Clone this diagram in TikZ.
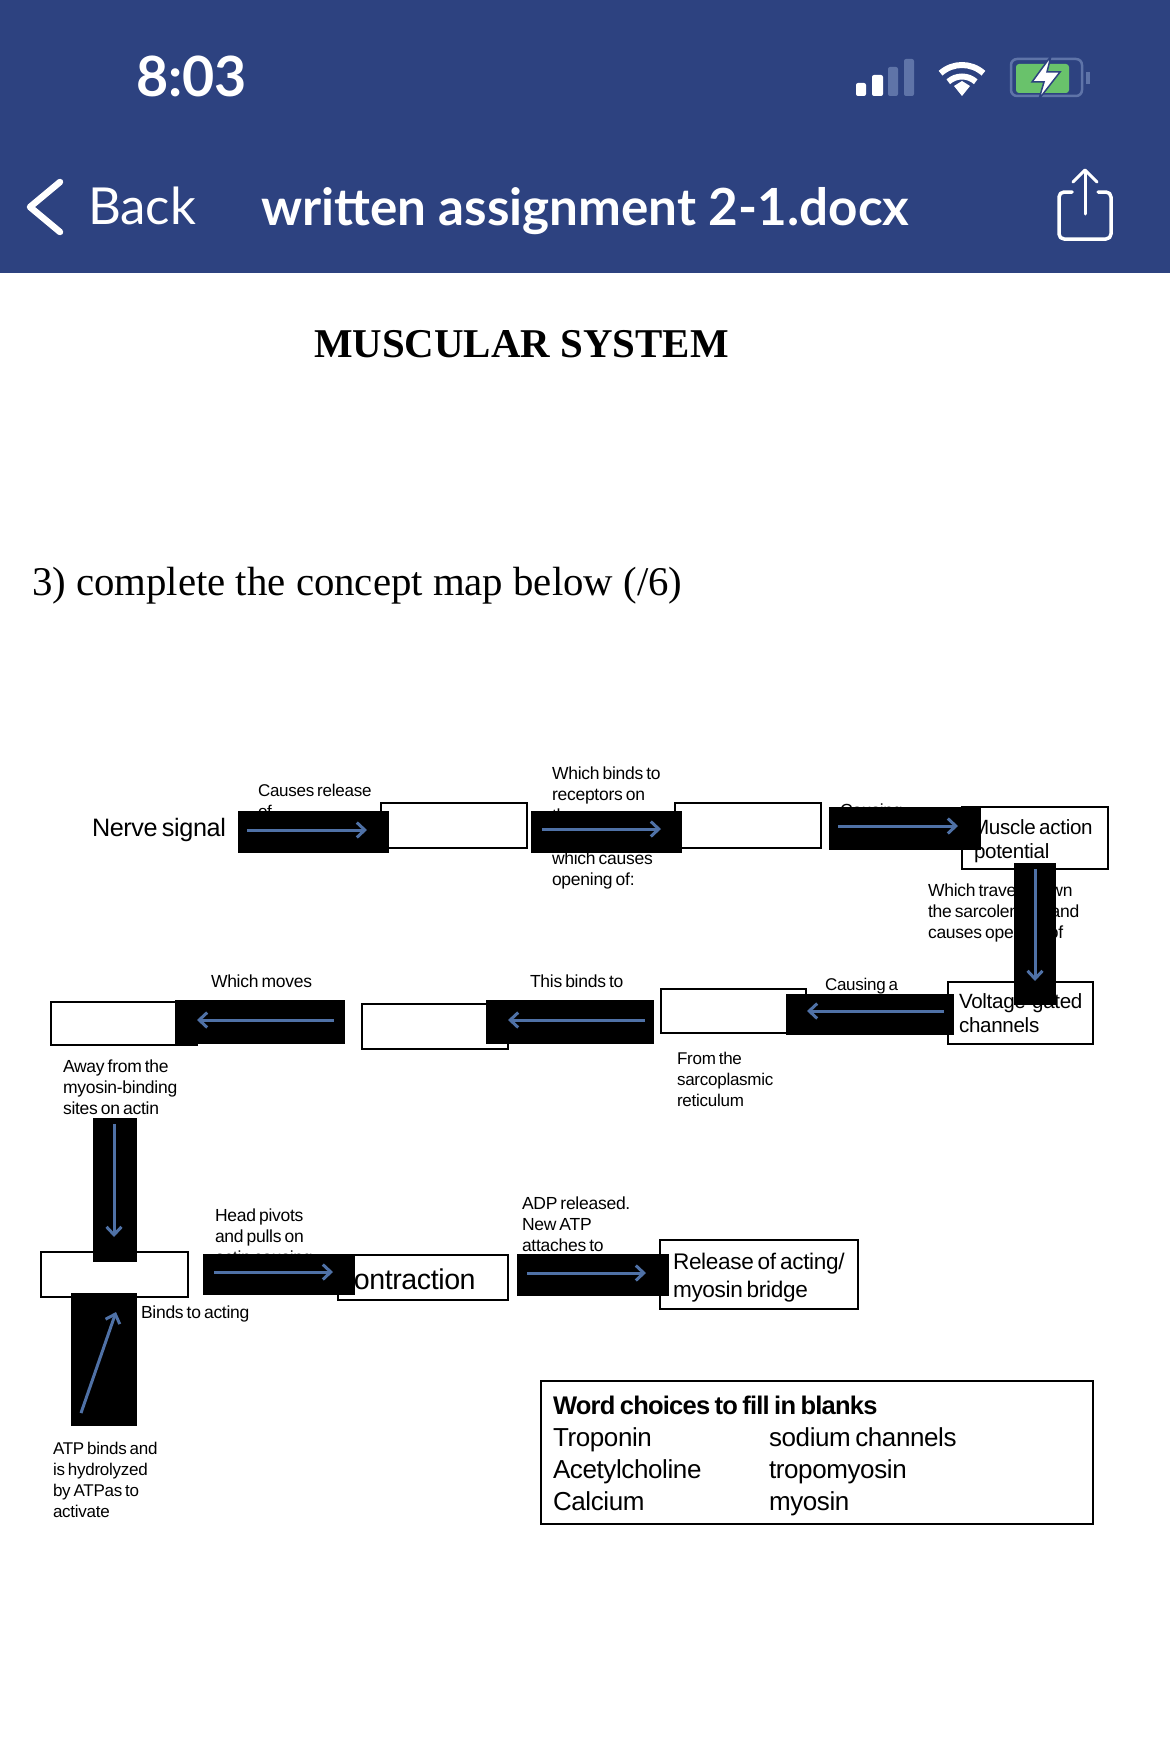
\documentclass[tikz,border=0pt]{standalone}
\usepackage{fontspec}
\setmainfont[LetterSpace=-1.5,WordSpace=0.65]{Liberation Sans}
\newfontfamily\serifface{Liberation Serif}
\newfontfamily\uiface{Lato}
\newfontfamily\boldword[LetterSpace=-3,WordSpace=0.7]{Liberation Sans Bold}
\usetikzlibrary{arrows.meta}
\definecolor{hdr}{HTML}{2D4280}
\definecolor{arrowblue}{HTML}{4F71A6}
\definecolor{dimbar}{HTML}{5F74A8}
\definecolor{battgreen}{HTML}{69C26B}
\newcommand{\lns}[1]{\begin{tabular}[t]{@{}l@{}}#1\end{tabular}}
\tikzset{
  x=1pt,y=-1pt,
  boxn/.style={draw=black,line width=2pt,fill=white,inner sep=0,outer sep=0,anchor=north west},
  barn/.style={fill=black,inner sep=0,outer sep=0,anchor=north west},
  lbl/.style={anchor=base west,inner sep=0,outer sep=0},
  small/.style={lbl,font=\fontsize{17.5}{21.2}\selectfont},
  big/.style={lbl,font=\fontsize{20.6}{24.5}\selectfont},
  arr/.style={draw=arrowblue,line width=3pt,-{Straight Barb[length=8pt,width=15pt,line width=3pt]}},
  ui/.style={lbl,text=white,font=\uiface\fontsize{51}{51}\selectfont},
  iconline/.style={draw=white,line cap=round,line join=round},
}
\newcommand{\bx}[5]{\node[#1,minimum width=#4pt,minimum height=#5pt] (#2) at (#3) {};}
\begin{document}
\begin{tikzpicture}
\useasboundingbox (0,0) rectangle (1170,1742);
\fill[white] (0,0) rectangle (1170,1742);
\fill[hdr] (0,0) rectangle (1170,273);
% status bar
\node[ui,font=\uiface\bfseries\fontsize{55.5}{56}\selectfont] (clock) at (136,97) {8:03};
\fill[white,rounded corners=2pt] (856,83) rectangle (866,96);
\fill[white,rounded corners=2pt] (872,75) rectangle (883,96);
\fill[dimbar,rounded corners=2pt] (888,67) rectangle (898,96);
\fill[dimbar,rounded corners=2pt] (904,59) rectangle (914,96);
\draw[white,line width=6pt] (962,97) ++(228:32) arc[start angle=228,end angle=312,radius=32];
\draw[white,line width=6pt] (962,97) ++(228:20.5) arc[start angle=228,end angle=312,radius=20.5];
\fill[white] (954,86) -- (962,96) -- (970,86) -- (962,81) -- cycle;
\draw[dimbar,line width=2.5pt,rounded corners=6pt] (1011,59) rectangle (1082,96);
\fill[battgreen,rounded corners=3pt] (1016,64) rectangle (1069,93);
\fill[dimbar] (1086,72) rectangle (1090,84);
\fill[white,draw=hdr,line width=1.5pt] (1051,56) -- (1032,82) -- (1044,82) -- (1039,99) -- (1060,72) -- (1047,72) -- cycle;
% nav bar
\draw[iconline,line width=6.5pt] (60,182) -- (30,207) -- (60,232);
\node[ui,font=\uiface\fontsize{51}{51}\selectfont] (back) at (88,224) {Back};
\node[ui,font=\uiface\bfseries\fontsize{51.2}{52}\selectfont] (doc) at (261,225) {written assignment 2-1.docx};
\draw[iconline,line width=3.5pt] (1072,192) -- (1064,192) arc[start angle=270,end angle=180,radius=5] -- (1059,234) arc[start angle=180,end angle=90,radius=5] -- (1106,239) arc[start angle=90,end angle=0,radius=5] -- (1111,197) arc[start angle=0,end angle=-90,radius=5] -- (1098,192);
\draw[iconline,line width=3pt] (1085,214) -- (1085,171);
\draw[iconline,line width=3pt] (1073,182) -- (1085,170) -- (1097,182);
% headings
\node[lbl,font=\serifface\bfseries\fontsize{40.9}{42}\selectfont] (heading) at (314,357) {MUSCULAR SYSTEM};
\node[lbl,font=\serifface\fontsize{40.8}{42}\selectfont] (question) at (32,595) {3) complete the concept map below (/6)};
% blank and filled boxes
\bx{boxn}{b1}{381,803}{146}{45}
\bx{boxn}{b2}{675,803}{146}{45}
\bx{boxn}{muscle}{962,807}{146}{62}
\bx{boxn}{volt}{948,982}{145}{62}
\bx{boxn}{b3}{661,989}{145}{44}
\bx{boxn}{b4}{362,1004}{146}{45}
\bx{boxn}{b5}{51,1002}{146}{43}
\bx{boxn}{b6}{41,1252}{147}{45}
\bx{boxn}{contr}{338,1255}{170}{45}
\bx{boxn}{rel}{660,1240}{198}{69}
\bx{boxn}{words}{541,1381}{552}{143}
% text
\node[lbl,font=\fontsize{25.2}{26}\selectfont] (tnerve) at (92,836) {Nerve signal};
\node[small,font=\fontsize{17}{21.2}\selectfont] (t1) at (258,796) {\lns{Causes release\\of}};
\node[small] (t2) at (552,779) {\lns{Which binds to\\receptors on\\the}};
\node[small] (t2b) at (552,864) {\lns{which causes\\opening of:}};
\node[small] (t3) at (840,816) {Causing};
\node[big] (tmuscle) at (974,834) {\lns{\hspace{-2pt}Muscle action\\potential}};
\node[small] (t4) at (928,896) {\lns{Which travels down\\the sarcolemma and\\causes opening of}};
\node[big] (tvolt) at (959,1008) {\lns{Voltage-gated\\channels}};
\node[small,font=\fontsize{17}{21.2}\selectfont] (t5) at (825,990) {Causing a};
\node[small,font=\fontsize{17}{21.2}\selectfont] (t5b) at (677,1064) {\lns{From the\\sarcoplasmic\\reticulum}};
\node[small] (t6) at (530,987) {This binds to};
\node[small] (t7) at (211,987) {Which moves};
\node[small] (t8) at (63,1072) {\lns{Away from the\\myosin-binding\\sites on actin}};
\node[small] (t9) at (141,1318) {Binds to acting};
\node[small,font=\fontsize{17}{21.2}\selectfont] (t10) at (53,1454) {\lns{ATP binds and\\is hydrolyzed\\by ATPas to\\activate}};
\node[small] (t11) at (215,1221) {\lns{Head pivots\\and pulls on\\actin causing}};
\node[lbl,font=\fontsize{28.6}{29}\selectfont] (tcontr) at (340,1289) {contraction};
\node[lbl,font=\fontsize{22.6}{28}\selectfont] (trel) at (673,1269) {\lns{Release of acting/\\myosin bridge}};
\node[small] (t12) at (522,1209) {\lns{ADP released.\\New ATP\\attaches to}};
\node[lbl,font=\boldword\fontsize{25.5}{32}\selectfont] (w0) at (553,1414) {Word choices to fill in blanks};
\node[lbl,font=\fontsize{26}{32}\selectfont] (w1) at (553,1446) {\lns{Troponin\\Acetylcholine\\Calcium}};
\node[lbl,font=\fontsize{26}{32}\selectfont] (w2) at (769,1446) {\lns{sodium channels\\tropomyosin\\myosin}};
% black bars
\bx{barn}{r1}{238,811}{151}{42}
\bx{barn}{r2}{531,811}{151}{42}
\bx{barn}{r3}{829,807}{152}{43}
\bx{barn}{r4}{1013.5,863}{42}{142}
\bx{barn}{r5}{786,994}{168}{41}
\bx{barn}{r6}{486,1000}{168}{44}
\bx{barn}{r7}{175,1000}{170}{44}
\bx{barn}{r7b}{175,1040}{22.5}{6}
\bx{barn}{r8}{93,1118}{44}{144}
\bx{barn}{r9}{71,1293}{66}{133}
\bx{barn}{r10}{203,1254}{152}{41}
\bx{barn}{r11}{517,1254}{152}{42}
% arrows
\coordinate (a1s) at (247,830); \coordinate (a1e) at (367,830);
\coordinate (a2s) at (542,829); \coordinate (a2e) at (661,829);
\coordinate (a3s) at (838,826); \coordinate (a3e) at (958,826);
\coordinate (a4s) at (1035,869); \coordinate (a4e) at (1035,981);
\coordinate (a5s) at (944,1011); \coordinate (a5e) at (807,1011);
\coordinate (a6s) at (645,1020); \coordinate (a6e) at (508,1020);
\coordinate (a7s) at (334,1020); \coordinate (a7e) at (197,1020);
\coordinate (a8s) at (114,1124); \coordinate (a8e) at (114,1237);
\coordinate (a9s) at (81,1413); \coordinate (a9e) at (116,1312);
\coordinate (a10s) at (214,1272); \coordinate (a10e) at (333,1272);
\coordinate (a11s) at (527,1273); \coordinate (a11e) at (646,1273);
\foreach \n in {1,...,11} {\draw[arr] (a\n s) -- (a\n e);}
\end{tikzpicture}
\end{document}
